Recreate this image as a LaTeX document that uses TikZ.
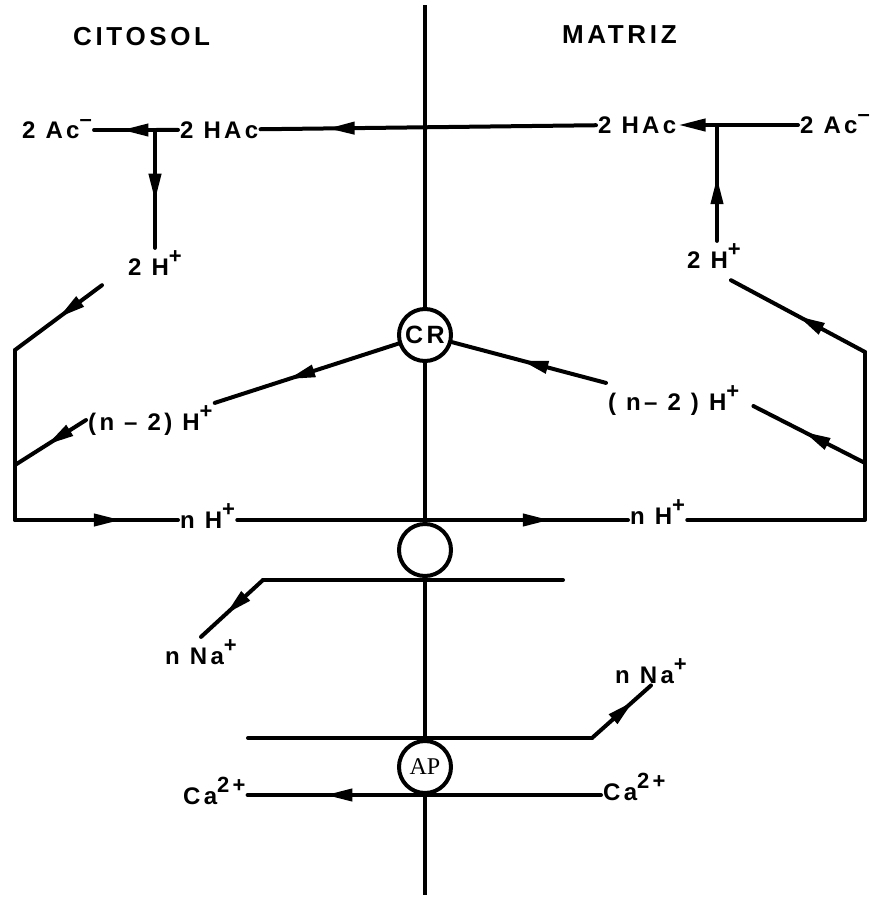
\documentclass[tikz,border=0pt]{standalone}
\usepackage{fontspec}
\setmainfont{Liberation Sans}[LetterSpace=14]
\newfontfamily\apfont{Liberation Serif}
\usetikzlibrary{arrows.meta,positioning,decorations.markings}

\newcommand\chg[1]{\raisebox{0.5em}{\fontsize{22}{22}\selectfont #1}}

\tikzset{
  flow/.style={line width=4pt, line cap=round, line join=round},
  midarrow/.style={flow, postaction={decorate},
    decoration={markings, mark=at position #1 with {\arrow{Triangle[length=27pt,width=12pt]}}}},
  midarrow/.default=0.6,
  tiparrow/.style={flow, -{Triangle[length=27pt,width=12pt]}},
  membrane/.style={line width=3.4pt},
  pore/.style={circle, draw, line width=4pt, fill=white, minimum size=52pt, inner sep=0pt,
    font=\fontsize{25}{25}\selectfont\bfseries},
  species/.style={inner sep=2pt, anchor=base west, font=\fontsize{24}{24}\selectfont\bfseries},
  side/.style={inner sep=0pt, anchor=base west, font=\fontsize{26}{26}\selectfont\bfseries}
}

\begin{document}
\begin{tikzpicture}[x=1pt,y=-1pt]
\useasboundingbox (0,0) rectangle (870,903);

% membrane
\coordinate (mtop) at (425,5);
\coordinate (mbot) at (425,895);
\draw[membrane] (mtop) -- (mbot);

\node[side] (cito) at (73,45) {CITOSOL};
\node[side] (matriz) at (562,43) {MATRIZ};

% carriers in the membrane
\node[pore] (cr) at (425,335) {CR};
\node[pore] (ex) at (425,550) {};
\node[pore, font=\fontsize{24}{24}\selectfont\apfont] (ap) at (425,767) {AP};

% acetate shuttle
\node[species] (acL) at (20,138) {2 Ac\chg{\textendash}};
\node[species] (hacL) at (178,138) {2 HAc};
\node[species] (hacR) at (596,133) {2 HAc};
\node[species] (acR) at (798,133) {2 Ac\chg{\textendash}};
\node[species] (hpL) at (126,275) {2 H\chg{+}};
\node[species] (hpR) at (685,268) {2 H\chg{+}};
\coordinate (jL) at (155,130);
\coordinate (jR) at (717,125);

\draw[flow] (hacL) -- (jL);
\draw[midarrow=0.55] (jL) -- (jL -| acL.east);
\draw[midarrow=0.8] (hacR) -- (hacL);
\draw[tiparrow] (acR.west |- jR) -- (hacR.east |- jR);
\draw[midarrow=0.6] (jL) -- (jL |- hpL.north);
\draw[midarrow=0.55] (jR |- hpR.north) -- (jR);

% proton cycle
\node[species] (nmL) at (86,430) {(n \textendash\ 2) H\chg{+}};
\node[species] (nmR) at (606,410) {( n\textendash\ 2 ) H\chg{+}};
\node[species] (nhL) at (178,528) {n H\chg{+}};
\node[species] (nhR) at (628,524) {n H\chg{+}};
\coordinate (lTop) at (15,350);
\coordinate (lMid) at (15,465);
\coordinate (lBot) at (15,520);
\coordinate (rTop) at (865,352);
\coordinate (rMid) at (865,463);
\coordinate (rBot) at (865,520);

\draw[midarrow=0.5] ([shift={(-24,8)}]hpL.south west) -- (lTop);
\draw[flow] (lTop) -- (lBot);
\draw[midarrow=0.65] (lBot) -- (lBot -| nhL.west);
\draw[midarrow=0.55] (nmL.west) -- (lMid);
\draw[midarrow=0.6] (cr) -- (nmL.north east);
\draw[midarrow=0.8] (nhL.east |- lBot) -- (nhR.west |- rBot);
\draw[flow] (nhR.east |- rBot) -- (rBot) -- (rTop);
\draw[midarrow=0.5] (rTop) -- ([shift={(-12,10)}]hpR.south east);
\draw[midarrow=0.55] (rMid) -- ([shift={(12,6)}]nmR.east);
\draw[midarrow=0.55] (nmR.north west) -- (cr);

% sodium and calcium
\node[species] (naL) at (163,664) {n Na\chg{+}};
\node[species] (naR) at (613,683) {n Na\chg{+}};
\node[species] (caL) at (181,804) {Ca\chg{2+}};
\node[species] (caR) at (601,800) {Ca\chg{2+}};
\coordinate (naT1) at (263,580);
\coordinate (naT2) at (563,580);
\coordinate (naB1) at (248,738);
\coordinate (naB2) at (592,738);

\draw[flow] (naT2) -- (naT1);
\draw[midarrow=0.6] (naT1) -- (naL.north);
\draw[flow] (naB1) -- (naB2);
\draw[midarrow=0.7] (naB2) -- (naR.south);
\draw[midarrow=0.78] (caR.west |- ap.south) -- (caL.east |- ap.south);
\end{tikzpicture}
\end{document}
